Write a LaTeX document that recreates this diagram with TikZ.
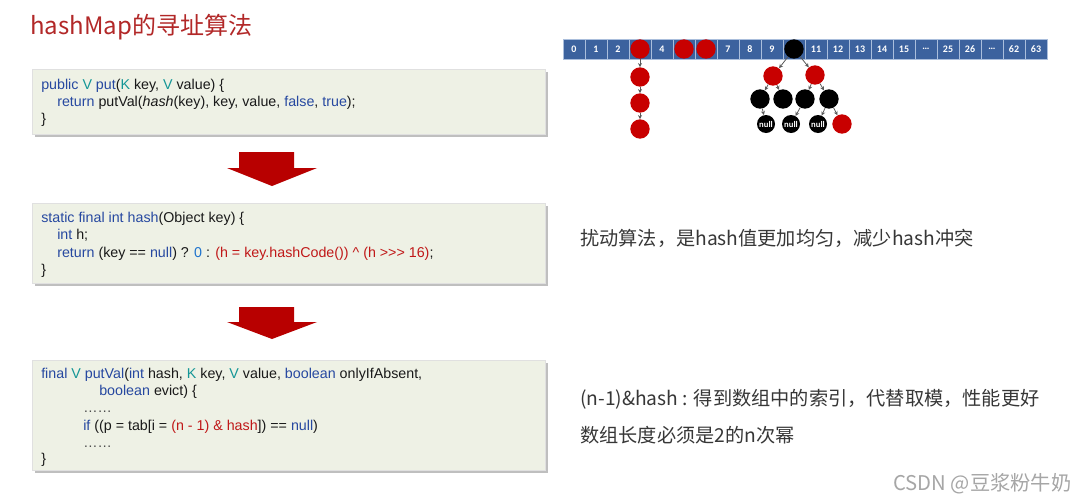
\documentclass[tikz,border=0pt]{standalone}
\usepackage{fontspec}
\setmainfont{Liberation Sans}
\newfontfamily\cjk{Noto Sans CJK SC}
\newfontfamily\cellf{Carlito}
\usetikzlibrary{arrows.meta}
\definecolor{kw}{RGB}{38,72,160}
\definecolor{tl}{RGB}{20,150,150}
\definecolor{num}{RGB}{30,115,205}
\definecolor{rd}{RGB}{192,24,24}
\definecolor{boxbg}{RGB}{238,241,229}
\definecolor{cellc}{RGB}{60,98,158}
\definecolor{cellb}{RGB}{170,190,220}
\definecolor{nodered}{RGB}{200,0,0}
\definecolor{titlec}{RGB}{178,40,40}
\definecolor{txt}{RGB}{55,55,55}
\definecolor{edgec}{RGB}{90,90,90}
\tikzset{
  codebox/.style={fill=boxbg,draw=black!12,line width=0.4pt},
  boxshadow/.style={fill=black!25,draw=none},
  codeline/.style={anchor=base west,inner sep=0pt,font=\fontsize{10.7}{12}\selectfont,text=black!90},
  sidetext/.style={anchor=base west,inner sep=0pt,font=\cjk\fontsize{14.4}{17}\selectfont,text=txt},
  bigarrow/.style={fill=nodered!92!black,draw=none},
  cell/.style={rectangle,fill=cellc,draw=cellb,line width=0.6pt,minimum width=16.5pt,minimum height=15pt,inner sep=0pt,text=white,font=\cellf\bfseries\fontsize{7.5}{8}\selectfont},
  rb/.style={circle,inner sep=0pt,minimum size=14.5pt},
  rnode/.style={rb,fill=nodered},
  bnode/.style={rb,fill=black},
  nnode/.style={circle,inner sep=0pt,minimum size=13.5pt,fill=black,text=white,font=\cellf\bfseries\fontsize{6.5}{6.5}\selectfont},
  edge/.style={draw=edgec,line width=0.6pt,-{Stealth[length=3pt,width=3pt]}}
}
\begin{document}
\begin{tikzpicture}[x=0.75pt,y=-0.75pt]
\useasboundingbox (0,0) rectangle (1077,500);
\fill[white] (0,0) rectangle (1077,500);

% title
\node[anchor=base west,inner sep=0pt,text=titlec,font=\cjk\fontsize{18}{21}\selectfont] (title) at (30,34) {hashMap的寻址算法};

% box 1
\fill[boxshadow] (35,72) rectangle (548,137);
\draw[codebox] (32,69) rectangle (545,134);
\node[codeline] (b1l1) at (41,89) {{\color{kw}public} {\color{tl}V} {\color{kw}put}({\color{tl}K} key, {\color{tl}V} value) \{};
\node[codeline] (b1l2) at (57,106) {{\color{kw}return} putVal(\textit{hash}(key), key, value, {\color{kw}false}, {\color{kw}true});};
\node[codeline] (b1l3) at (41,123) {\}};

% arrow 1
\fill[bigarrow] (239,152) -- (294,152) -- (294,168) -- (317,168) -- (272,186) -- (227,168) -- (239,168) -- cycle;

% box 2
\fill[boxshadow] (35,206) rectangle (548,286);
\draw[codebox] (32,203) rectangle (545,283);
\node[codeline] (b2l1) at (41,222) {{\color{kw}static final int hash}(Object key) \{};
\node[codeline] (b2l2) at (57,239.5) {{\color{kw}int} h;};
\node[codeline] (b2l3) at (57,257) {{\color{kw}return} (key == {\color{kw}null}) ? {\color{num}0} : {\color{rd}(h = key.hashCode()) \textasciicircum{} (h >{}>{}> 16)};};
\node[codeline] (b2l4) at (41,274) {\}};

% arrow 2
\fill[bigarrow] (239,307) -- (294,307) -- (294,322) -- (317,322) -- (272,339) -- (227,322) -- (239,322) -- cycle;

% box 3
\fill[boxshadow] (35,363) rectangle (548,473);
\draw[codebox] (32,360) rectangle (545,470);
\node[codeline] (b3l1) at (41,378) {{\color{kw}final} {\color{tl}V} {\color{kw}putVal}({\color{kw}int} hash, {\color{tl}K} key, {\color{tl}V} value, {\color{kw}boolean} onlyIfAbsent,};
\node[codeline] (b3l2) at (99,395) {{\color{kw}boolean} evict) \{};
\node[codeline,text=black!70] (b3l3) at (83,412) {……};
\node[codeline] (b3l4) at (83,430) {{\color{kw}if} ((p = tab[i = {\color{rd}(n - 1) \& hash}]) == {\color{kw}null})};
\node[codeline,text=black!70] (b3l5) at (83,447) {……};
\node[codeline] (b3l6) at (41,463) {\}};

% side texts
\node[sidetext] (s1) at (580,245) {扰动算法，是hash值更加均匀，减少hash冲突};
\node[sidetext] (s2) at (580,405) {(n-1)\&hash : 得到数组中的索引，代替取模，性能更好};
\node[sidetext] (s3) at (580,442) {数组长度必须是2的n次幂};

% array
\foreach \lab [count=\i from 0] in {0,1,2,,4,,,7,8,9,,11,12,13,14,15,…,25,26,…,62,63}{
  \node[cell] (c\i) at ({563+22*(\i+0.5)},49) {\lab};
}
% circles in cells
\node[rnode] (n3) at (c3) {};
\node[rnode] (n5) at (c5) {};
\node[rnode] (n6) at (c6) {};
\node[bnode] (root) at (c10) {};

% chain
\node[rnode] (r1) at (640,77) {};
\node[rnode] (r2) at (640,103) {};
\node[rnode] (r3) at (640,129) {};
\draw[edge] (n3) -- (r1);
\draw[edge] (r1) -- (r2);
\draw[edge] (r2) -- (r3);

% tree
\node[rnode] (ta) at (773,76) {};
\node[rnode] (tb) at (815,75) {};
\node[bnode] (c1n) at (760,99) {};
\node[bnode] (c2n) at (783,99) {};
\node[bnode] (c3n) at (805,99) {};
\node[bnode] (c4n) at (829,99) {};
\node[nnode] (l1) at (766,124) {null};
\node[nnode] (l2) at (791,124) {null};
\node[nnode] (l3) at (818,124) {null};
\node[rnode] (l4) at (842,124) {};
\draw[edge] (root) -- (ta);
\draw[edge] (root) -- (tb);
\draw[edge] (ta) -- (c1n);
\draw[edge] (ta) -- (c2n);
\draw[edge] (tb) -- (c3n);
\draw[edge] (tb) -- (c4n);
\draw[edge] (c1n) -- (l1);
\draw[edge] (c3n) -- (l2);
\draw[edge] (c4n) -- (l3);
\draw[edge] (c4n) -- (l4);

% watermark
\node[anchor=base west,inner sep=0pt,text=black!35,font=\cjk\fontsize{15.2}{17}\selectfont] (wm) at (893,490) {CSDN @豆浆粉牛奶};
\end{tikzpicture}
\end{document}
